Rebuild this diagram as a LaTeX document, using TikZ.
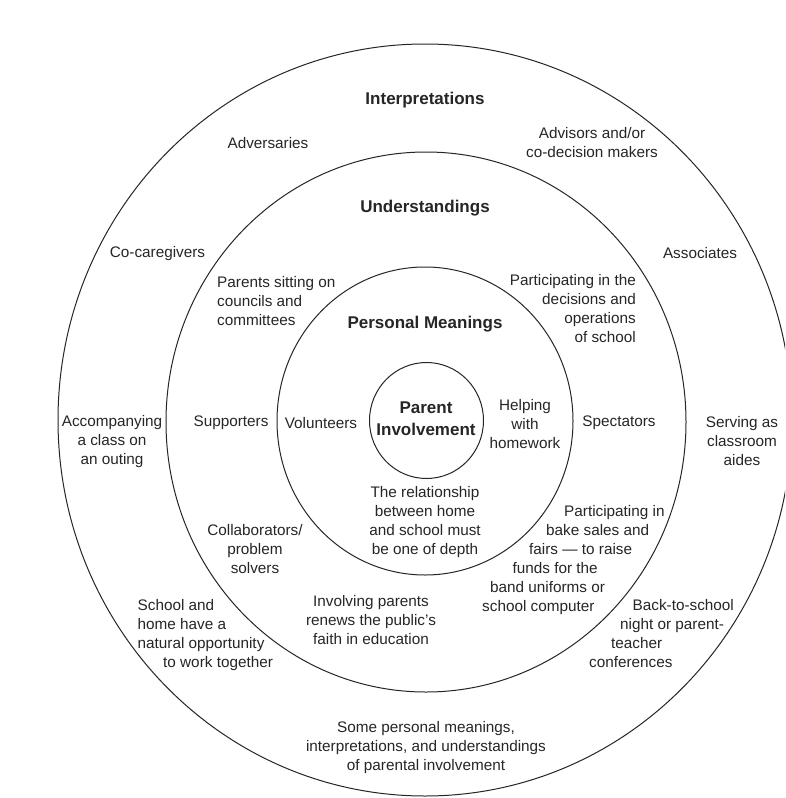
\documentclass[tikz,border=0pt]{standalone}
\usepackage{fontspec}
\setmainfont{Liberation Sans}
\begin{document}
\begin{tikzpicture}[x=1pt,y=-1pt,
  lbl/.style={font=\fontsize{15.3}{19}\selectfont, text=black!85, inner sep=0pt, align=center},
  ttl/.style={font=\fontsize{17}{22}\selectfont\bfseries, text=black!85, inner sep=0pt, align=center},
  ring/.style={draw=black!85, line width=1pt}]
\useasboundingbox (0,0) rectangle (785,798);
\clip (0,0) rectangle (785,798);
\fill[white] (0,0) rectangle (785,798);
% rings
\draw[ring] (425,420) ellipse [x radius=367pt, y radius=376pt];
\draw[ring] (426,422) ellipse [x radius=260pt, y radius=270pt];
\draw[ring] (425,421) ellipse [x radius=148pt, y radius=154pt];
\draw[ring] (426.5,420.5) ellipse [x radius=57pt, y radius=58pt];
% titles
\node[ttl] (interp) at (425,100) {Interpretations};
\node[ttl] (under) at (425,208) {Understandings};
\node[ttl] (persm) at (425,324) {Personal Meanings};
\node[ttl] (parent) at (426,419) {Parent\\Involvement};
% outer ring
\node[lbl] (advers) at (268,143) {Adversaries};
\node[lbl] (advisors) at (592,143) {Advisors and/or\\co-decision makers};
\node[lbl] (cocare) at (157.5,254) {Co-caregivers};
\node[lbl] (assoc) at (700,253) {Associates};
\node[lbl] (accomp) at (112,442) {Accompanying\\a class on\\an outing};
\node[lbl] (serving) at (742,441) {Serving as\\classroom\\aides};
\node[lbl, anchor=west, align=left] (school) at (137.5,635) {School and\\home have a\\natural opportunity\\\hspace*{25.5pt}to work together};
\node[lbl, anchor=west, align=left] (backto) at (589,634) {\hspace*{43.5pt}Back-to-school\\\hspace*{31pt}night or parent-\\\hspace*{22pt}teacher\\conferences};
\node[lbl] (some) at (426,748) {Some personal meanings,\\interpretations, and understandings\\of parental involvement};
% middle ring
\node[lbl, anchor=west, align=left] (councils) at (217,301) {Parents sitting on\\councils and\\committees};
\node[lbl, anchor=east, align=right] (decisions) at (636,309) {Participating in the\\decisions and\\operations\\of school};
\node[lbl] (support) at (231,423) {Supporters};
\node[lbl] (spect) at (619,423) {Spectators};
\node[lbl] (collab) at (255,549) {Collaborators/\\problem\\solvers};
\node[lbl, anchor=west, align=left] (bake) at (482,560) {\hspace*{82pt}Participating in\\\hspace*{64pt}bake sales and\\\hspace*{47pt}fairs --- to raise\\\hspace*{30.5pt}funds for the\\\hspace*{8pt}band uniforms or\\school computer};
\node[lbl] (involving) at (371,620) {Involving parents\\renews the public's\\faith in education};
% inner ring
\node[lbl] (volunt) at (321,423) {Volunteers};
\node[lbl] (helping) at (525,424) {Helping\\with\\homework};
\node[lbl] (relation) at (425,522) {The relationship\\between home\\and school must\\be one of depth};
\end{tikzpicture}
\end{document}
